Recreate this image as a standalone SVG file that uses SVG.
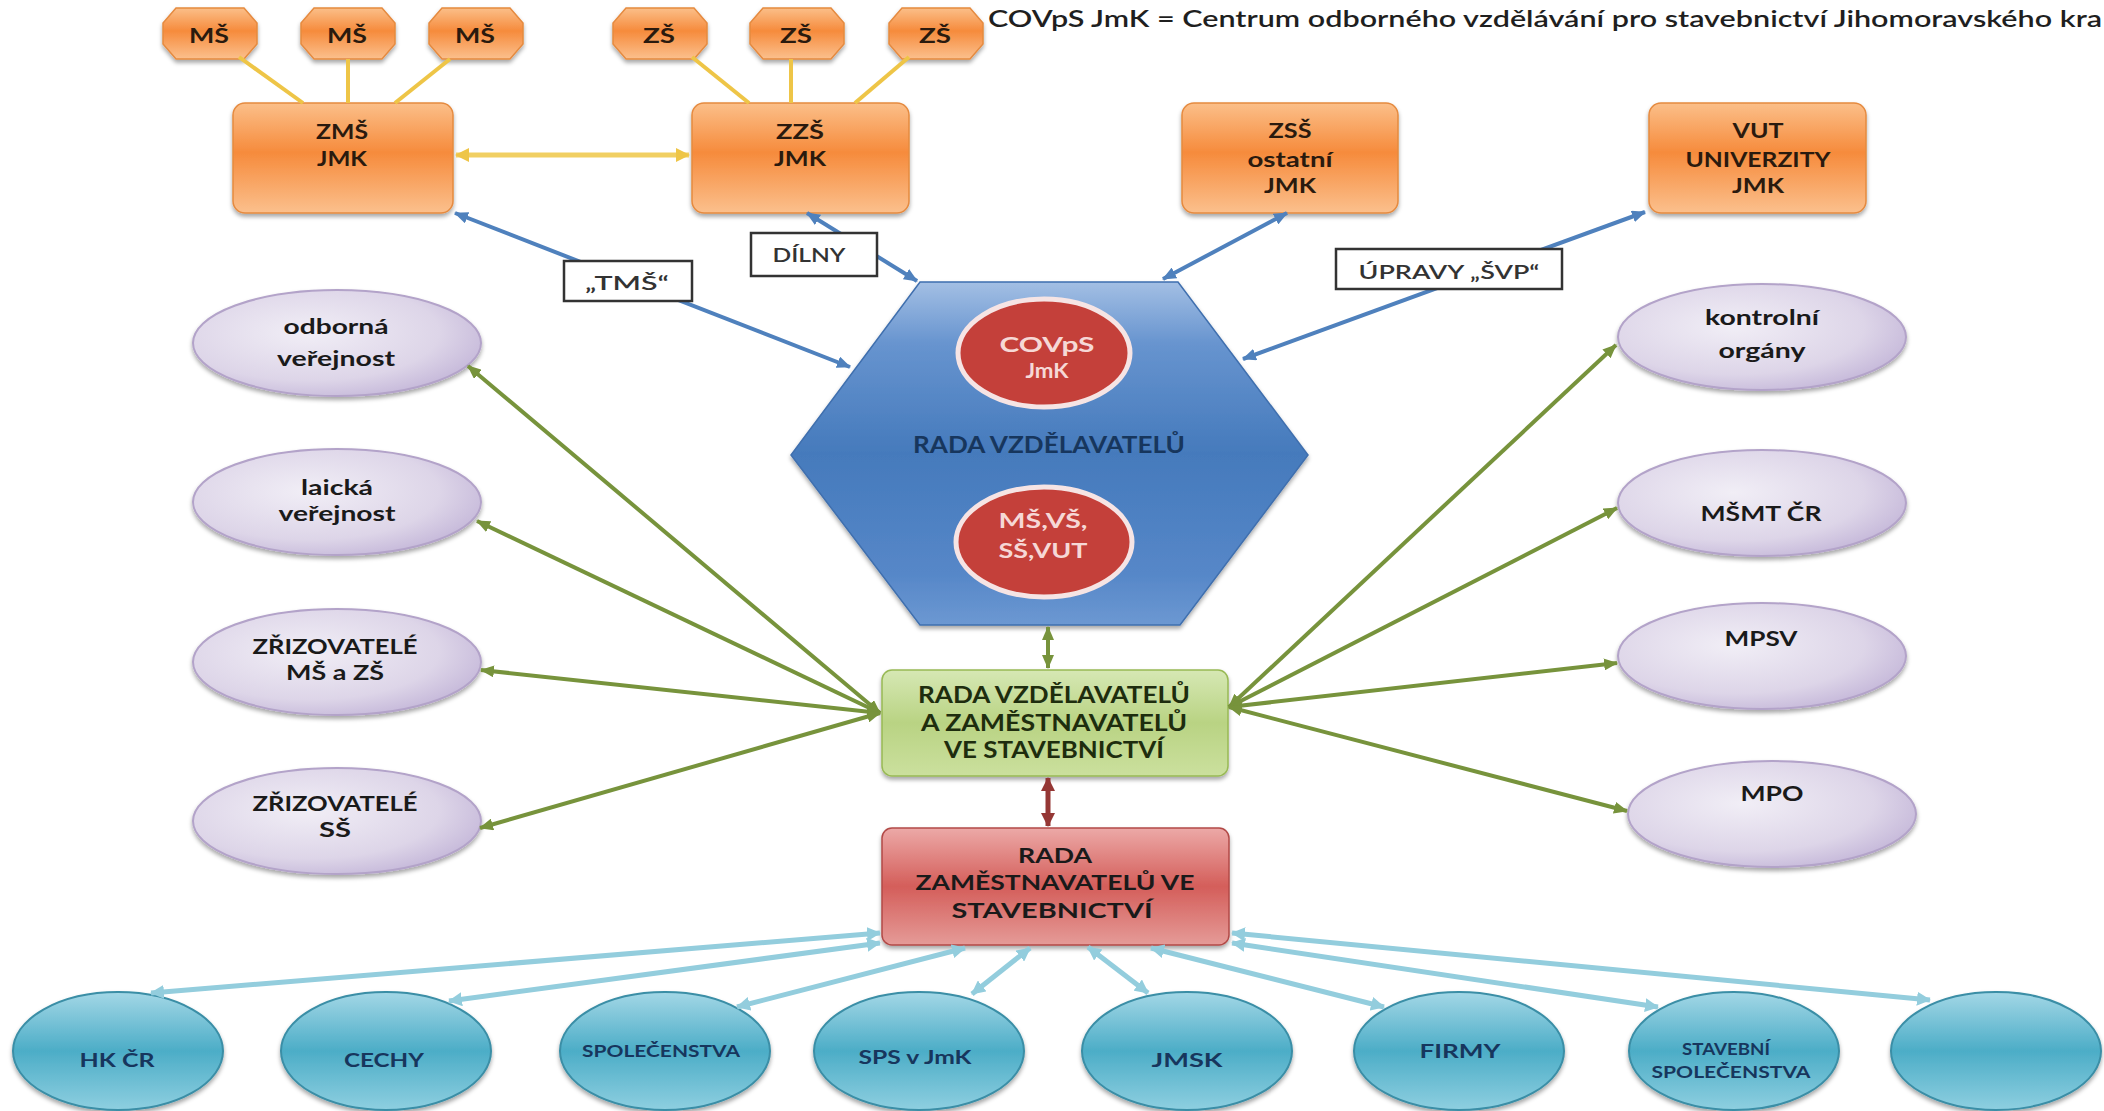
<svg xmlns="http://www.w3.org/2000/svg" xmlns:xlink="http://www.w3.org/1999/xlink" width="2104" height="1111" viewBox="0 0 2104 1111">
<style>
.t{font-family:Lato,'Liberation Sans',sans-serif;font-weight:700;text-anchor:middle;fill:#2a1a0e}
.o{font-size:21px}
.ell{font-size:21px;fill:#1a1a1a}
.tl{font-size:19px;fill:#17365d}
.lbl{font-family:Lato,'Liberation Sans',sans-serif;font-weight:600;font-size:20px;text-anchor:middle;fill:#333}
.box{stroke:#333;stroke-width:2.5;fill:#fff}
.orange{fill:url(#gOrange);stroke:#e58a3f;stroke-width:1.5;filter:url(#sh)}
.lav{fill:url(#gLav);stroke:#b3a3c9;stroke-width:2;filter:url(#sh)}
.teal{fill:url(#gTeal);stroke:#3a8ea6;stroke-width:2;filter:url(#sh)}
.cy{stroke:#eec547;stroke-width:4;fill:none}
.cyd{stroke:#f1cf62;stroke-width:5;fill:none}
.cb{stroke:#4f81bd;stroke-width:4;fill:none}
.cg{stroke:#77933c;stroke-width:4;fill:none}
.cr{stroke:#953735;stroke-width:5;fill:none}
.ct{stroke:#93cddd;stroke-width:5;fill:none}
</style>
<defs>
<filter id="sh" x="-10%" y="-10%" width="120%" height="135%"><feDropShadow dx="0" dy="3" stdDeviation="2" flood-color="#000" flood-opacity="0.35"/></filter>
<linearGradient id="gOrange" x1="0" y1="0" x2="0" y2="1"><stop offset="0" stop-color="#fbbf89"/><stop offset="0.45" stop-color="#f68b3c"/><stop offset="1" stop-color="#fbc08d"/></linearGradient>
<linearGradient id="gBlue" x1="0" y1="0" x2="0" y2="1"><stop offset="0" stop-color="#a3bfe4"/><stop offset="0.18" stop-color="#6794cf"/><stop offset="0.5" stop-color="#457abc"/><stop offset="0.85" stop-color="#5687c8"/><stop offset="1" stop-color="#6c98d2"/></linearGradient>
<linearGradient id="gGreen" x1="0" y1="0" x2="0" y2="1"><stop offset="0" stop-color="#d6e8b4"/><stop offset="0.5" stop-color="#b9d383"/><stop offset="1" stop-color="#cbe09e"/></linearGradient>
<linearGradient id="gRed" x1="0" y1="0" x2="0" y2="1"><stop offset="0" stop-color="#eca9a7"/><stop offset="0.5" stop-color="#d45e5a"/><stop offset="1" stop-color="#e59b98"/></linearGradient>
<radialGradient id="gLav" cx="0.4" cy="0.4" r="0.65"><stop offset="0" stop-color="#f1eef6"/><stop offset="0.7" stop-color="#ddd5e8"/><stop offset="1" stop-color="#c6b9da"/></radialGradient>
<linearGradient id="gTeal" x1="0" y1="0" x2="0" y2="1"><stop offset="0" stop-color="#a3d7e6"/><stop offset="0.5" stop-color="#4cadc7"/><stop offset="1" stop-color="#8ecfe0"/></linearGradient>
<path id="oct" d="M-34,8 L34,8 L47,23 L47,44 L34,59 L-34,59 L-47,44 L-47,23 Z"/>
<marker id="aY" markerUnits="userSpaceOnUse" viewBox="0 0 14 14" markerWidth="14" markerHeight="14" refX="13" refY="7" orient="auto-start-reverse"><path d="M0,0 L14,7 L0,14 Z" fill="#eec547"/></marker>
<marker id="aB" markerUnits="userSpaceOnUse" viewBox="0 0 14 12" markerWidth="14" markerHeight="12" refX="13" refY="6" orient="auto-start-reverse"><path d="M0,0 L14,6 L0,12 Z" fill="#4f81bd"/></marker>
<marker id="aG" markerUnits="userSpaceOnUse" viewBox="0 0 14 12" markerWidth="14" markerHeight="12" refX="13" refY="6" orient="auto-start-reverse"><path d="M0,0 L14,6 L0,12 Z" fill="#77933c"/></marker>
<marker id="aR" markerUnits="userSpaceOnUse" viewBox="0 0 14 14" markerWidth="14" markerHeight="14" refX="13" refY="7" orient="auto-start-reverse"><path d="M0,0 L14,7 L0,14 Z" fill="#953735"/></marker>
<marker id="aT" markerUnits="userSpaceOnUse" viewBox="0 0 14 14" markerWidth="14" markerHeight="14" refX="13" refY="7" orient="auto-start-reverse"><path d="M0,0 L14,7 L0,14 Z" fill="#93cddd"/></marker>
</defs>
<rect width="2104" height="1111" fill="#fff"/>

<!-- legend -->
<text id="legend" x="988" y="27" font-family="Lato,'Liberation Sans',sans-serif" font-weight="600" font-size="23" fill="#1f1f1f" textLength="1114" lengthAdjust="spacingAndGlyphs">COVpS JmK = Centrum odborného vzdělávání pro stavebnictví Jihomoravského kra</text>

<!-- top octagons -->
<g id="ms1"><use href="#oct" x="210" class="orange"/><text class="t o" x="209" y="43" textLength="40" lengthAdjust="spacingAndGlyphs">MŠ</text></g>
<g id="ms2"><use href="#oct" x="348" class="orange"/><text class="t o" x="347" y="43" textLength="40" lengthAdjust="spacingAndGlyphs">MŠ</text></g>
<g id="ms3"><use href="#oct" x="476" class="orange"/><text class="t o" x="475" y="43" textLength="40" lengthAdjust="spacingAndGlyphs">MŠ</text></g>
<g id="zs1"><use href="#oct" x="660" class="orange"/><text class="t o" x="659" y="43" textLength="32" lengthAdjust="spacingAndGlyphs">ZŠ</text></g>
<g id="zs2"><use href="#oct" x="797" class="orange"/><text class="t o" x="796" y="43" textLength="32" lengthAdjust="spacingAndGlyphs">ZŠ</text></g>
<g id="zs3"><use href="#oct" x="936" class="orange"/><text class="t o" x="935" y="43" textLength="32" lengthAdjust="spacingAndGlyphs">ZŠ</text></g>

<!-- orange boxes -->
<g id="zms"><rect x="233" y="103" width="220" height="110" rx="12" class="orange"/><text class="t o" x="342" y="139" textLength="52" lengthAdjust="spacingAndGlyphs">ZMŠ</text><text class="t o" x="342" y="166" textLength="50" lengthAdjust="spacingAndGlyphs">JMK</text></g>
<g id="zzs"><rect x="692" y="103" width="217" height="110" rx="12" class="orange"/><text class="t o" x="800" y="139" textLength="48" lengthAdjust="spacingAndGlyphs">ZZŠ</text><text class="t o" x="800" y="166" textLength="52" lengthAdjust="spacingAndGlyphs">JMK</text></g>
<g id="zss"><rect x="1182" y="103" width="216" height="110" rx="12" class="orange"/><text class="t o" x="1290" y="138" textLength="43" lengthAdjust="spacingAndGlyphs">ZSŠ</text><text class="t o" x="1290" y="167" textLength="85" lengthAdjust="spacingAndGlyphs">ostatní</text><text class="t o" x="1290" y="193" textLength="52" lengthAdjust="spacingAndGlyphs">JMK</text></g>
<g id="vut"><rect x="1649" y="103" width="217" height="110" rx="12" class="orange"/><text class="t o" x="1758" y="138" textLength="51" lengthAdjust="spacingAndGlyphs">VUT</text><text class="t o" x="1758" y="167" textLength="145" lengthAdjust="spacingAndGlyphs">UNIVERZITY</text><text class="t o" x="1758" y="193" textLength="52" lengthAdjust="spacingAndGlyphs">JMK</text></g>

<!-- hexagon -->
<g id="rada-vzdelavatelu">
<path d="M920,282 L1178,282 L1308,455 L1180,625 L920,625 L791,455 Z" fill="url(#gBlue)" stroke="#3f6fae" stroke-width="1.5" filter="url(#sh)"/>
<text class="t" x="1049" y="453" font-size="22" style="fill:#17365d" textLength="272" lengthAdjust="spacingAndGlyphs">RADA VZDĚLAVATELŮ</text>
</g>
<g id="covps">
<ellipse cx="1044" cy="353" rx="86" ry="54" fill="#c4403a" stroke="#f6e4e4" stroke-width="5"/>
<text class="t" x="1047" y="352" font-size="21" style="fill:#f6d8d6" textLength="95" lengthAdjust="spacingAndGlyphs">COVpS</text>
<text class="t" x="1047" y="378" font-size="21" style="fill:#f6d8d6" textLength="43" lengthAdjust="spacingAndGlyphs">JmK</text>
</g>
<g id="skoly">
<ellipse cx="1044" cy="542" rx="88" ry="55" fill="#c4403a" stroke="#f6e4e4" stroke-width="5"/>
<text class="t" x="1043" y="528" font-size="21" style="fill:#f6d8d6" textLength="89" lengthAdjust="spacingAndGlyphs">MŠ,VŠ,</text>
<text class="t" x="1043" y="558" font-size="21" style="fill:#f6d8d6" textLength="89" lengthAdjust="spacingAndGlyphs">SŠ,VUT</text>
</g>

<!-- green box -->
<g id="rada-vz">
<rect x="882" y="670" width="346" height="106" rx="10" fill="url(#gGreen)" stroke="#98b954" stroke-width="1.5" filter="url(#sh)"/>
<text class="t" x="1054" y="703" font-size="22" style="fill:#1e2d0e" textLength="272" lengthAdjust="spacingAndGlyphs">RADA VZDĚLAVATELŮ</text>
<text class="t" x="1054" y="731" font-size="22" style="fill:#1e2d0e" textLength="266" lengthAdjust="spacingAndGlyphs">A ZAMĚSTNAVATELŮ</text>
<text class="t" x="1054" y="758" font-size="22" style="fill:#1e2d0e" textLength="220" lengthAdjust="spacingAndGlyphs">VE STAVEBNICTVÍ</text>
</g>

<!-- red box -->
<g id="rada-zam">
<rect x="882" y="828" width="347" height="117" rx="10" fill="url(#gRed)" stroke="#b24a47" stroke-width="1.5" filter="url(#sh)"/>
<text class="t" x="1055" y="863" font-size="21" style="fill:#1a1a1a" textLength="74" lengthAdjust="spacingAndGlyphs">RADA</text>
<text class="t" x="1055" y="890" font-size="21" style="fill:#1a1a1a" textLength="279" lengthAdjust="spacingAndGlyphs">ZAMĚSTNAVATELŮ VE</text>
<text class="t" x="1052" y="918" font-size="21" style="fill:#1a1a1a" textLength="201" lengthAdjust="spacingAndGlyphs">STAVEBNICTVÍ</text>
</g>

<!-- left ellipses -->
<g id="odborna"><ellipse cx="337" cy="343" rx="144" ry="53" class="lav"/><text class="t ell" x="336" y="334" textLength="105" lengthAdjust="spacingAndGlyphs">odborná</text><text class="t ell" x="336" y="366" textLength="118" lengthAdjust="spacingAndGlyphs">veřejnost</text></g>
<g id="laicka"><ellipse cx="337" cy="502" rx="144" ry="53" class="lav"/><text class="t ell" x="337" y="495" textLength="72" lengthAdjust="spacingAndGlyphs">laická</text><text class="t ell" x="337" y="521" textLength="117" lengthAdjust="spacingAndGlyphs">veřejnost</text></g>
<g id="zriz-ms-zs"><ellipse cx="337" cy="662" rx="144" ry="53" class="lav"/><text class="t ell" x="335" y="654" textLength="165" lengthAdjust="spacingAndGlyphs">ZŘIZOVATELÉ</text><text class="t ell" x="335" y="680" textLength="98" lengthAdjust="spacingAndGlyphs">MŠ a ZŠ</text></g>
<g id="zriz-ss"><ellipse cx="337" cy="821" rx="144" ry="53" class="lav"/><text class="t ell" x="335" y="811" textLength="165" lengthAdjust="spacingAndGlyphs">ZŘIZOVATELÉ</text><text class="t ell" x="335" y="837" textLength="32" lengthAdjust="spacingAndGlyphs">SŠ</text></g>

<!-- right ellipses -->
<g id="kontrolni"><ellipse cx="1762" cy="337" rx="144" ry="53" class="lav"/><text class="t ell" x="1762" y="325" textLength="114" lengthAdjust="spacingAndGlyphs">kontrolní</text><text class="t ell" x="1762" y="358" textLength="87" lengthAdjust="spacingAndGlyphs">orgány</text></g>
<g id="msmt"><ellipse cx="1762" cy="503" rx="144" ry="53" class="lav"/><text class="t ell" x="1761" y="521" textLength="121" lengthAdjust="spacingAndGlyphs">MŠMT ČR</text></g>
<g id="mpsv"><ellipse cx="1762" cy="656" rx="144" ry="53" class="lav"/><text class="t ell" x="1761" y="646" textLength="73" lengthAdjust="spacingAndGlyphs">MPSV</text></g>
<g id="mpo"><ellipse cx="1772" cy="814" rx="144" ry="53" class="lav"/><text class="t ell" x="1772" y="801" textLength="63" lengthAdjust="spacingAndGlyphs">MPO</text></g>

<!-- bottom teal ellipses -->
<g id="hkcr"><ellipse cx="118" cy="1051" rx="105" ry="59" class="teal"/><text class="t tl" x="117" y="1067" textLength="75" lengthAdjust="spacingAndGlyphs">HK ČR</text></g>
<g id="cechy"><ellipse cx="386" cy="1051" rx="105" ry="59" class="teal"/><text class="t tl" x="384" y="1067" textLength="80" lengthAdjust="spacingAndGlyphs">CECHY</text></g>
<g id="spolecenstva"><ellipse cx="665" cy="1051" rx="105" ry="59" class="teal"/><text class="t tl" x="661" y="1057" style="font-size:17px" textLength="158" lengthAdjust="spacingAndGlyphs">SPOLEČENSTVA</text></g>
<g id="sps"><ellipse cx="919" cy="1051" rx="105" ry="59" class="teal"/><text class="t tl" x="915" y="1064" textLength="113" lengthAdjust="spacingAndGlyphs">SPS v JmK</text></g>
<g id="jmsk"><ellipse cx="1187" cy="1051" rx="105" ry="59" class="teal"/><text class="t tl" x="1187" y="1067" textLength="71" lengthAdjust="spacingAndGlyphs">JMSK</text></g>
<g id="firmy"><ellipse cx="1459" cy="1051" rx="105" ry="59" class="teal"/><text class="t tl" x="1460" y="1058" textLength="81" lengthAdjust="spacingAndGlyphs">FIRMY</text></g>
<g id="stavebni"><ellipse cx="1734" cy="1051" rx="105" ry="59" class="teal"/><text class="t tl" x="1726" y="1055" style="font-size:17px" textLength="88" lengthAdjust="spacingAndGlyphs">STAVEBNÍ</text><text class="t tl" x="1731" y="1078" style="font-size:17px" textLength="159" lengthAdjust="spacingAndGlyphs">SPOLEČENSTVA</text></g>
<g id="empty"><ellipse cx="1996" cy="1051" rx="105" ry="59" class="teal"/></g>

<!-- connectors -->
<g id="connectors">
<line class="cy" x1="239" y1="57" x2="303" y2="103"/>
<line class="cy" x1="348" y1="59" x2="348" y2="103"/>
<line class="cy" x1="450" y1="59" x2="395" y2="103"/>
<line class="cy" x1="692" y1="57" x2="749" y2="103"/>
<line class="cy" x1="791" y1="59" x2="791" y2="103"/>
<line class="cy" x1="909" y1="57" x2="855" y2="103"/>
<line class="cyd" x1="456" y1="155" x2="689" y2="155" marker-start="url(#aY)" marker-end="url(#aY)"/>

<line class="cb" x1="455" y1="213" x2="850" y2="367" marker-start="url(#aB)" marker-end="url(#aB)"/>
<line class="cb" x1="807" y1="213" x2="917" y2="281" marker-start="url(#aB)" marker-end="url(#aB)"/>
<line class="cb" x1="1287" y1="213" x2="1163" y2="279" marker-start="url(#aB)" marker-end="url(#aB)"/>
<line class="cb" x1="1645" y1="212" x2="1243" y2="359" marker-start="url(#aB)" marker-end="url(#aB)"/>

<line class="cg" x1="1048" y1="627" x2="1048" y2="668" marker-start="url(#aG)" marker-end="url(#aG)"/>
<line class="cr" x1="1048" y1="778" x2="1048" y2="826" marker-start="url(#aR)" marker-end="url(#aR)"/>

<line class="cg" x1="880" y1="713" x2="468" y2="366" marker-start="url(#aG)" marker-end="url(#aG)"/>
<line class="cg" x1="880" y1="713" x2="477" y2="521" marker-start="url(#aG)" marker-end="url(#aG)"/>
<line class="cg" x1="880" y1="713" x2="481" y2="670" marker-start="url(#aG)" marker-end="url(#aG)"/>
<line class="cg" x1="880" y1="713" x2="480" y2="828" marker-start="url(#aG)" marker-end="url(#aG)"/>
<line class="cg" x1="1229" y1="707" x2="1616" y2="345" marker-start="url(#aG)" marker-end="url(#aG)"/>
<line class="cg" x1="1229" y1="707" x2="1617" y2="508" marker-start="url(#aG)" marker-end="url(#aG)"/>
<line class="cg" x1="1229" y1="707" x2="1617" y2="663" marker-start="url(#aG)" marker-end="url(#aG)"/>
<line class="cg" x1="1229" y1="707" x2="1627" y2="811" marker-start="url(#aG)" marker-end="url(#aG)"/>

<line class="ct" x1="880" y1="933" x2="151" y2="993" marker-start="url(#aT)" marker-end="url(#aT)"/>
<line class="ct" x1="880" y1="943" x2="449" y2="1001" marker-start="url(#aT)" marker-end="url(#aT)"/>
<line class="ct" x1="965" y1="948" x2="737" y2="1007" marker-start="url(#aT)" marker-end="url(#aT)"/>
<line class="ct" x1="1030" y1="948" x2="972" y2="994" marker-start="url(#aT)" marker-end="url(#aT)"/>
<line class="ct" x1="1088" y1="947" x2="1148" y2="993" marker-start="url(#aT)" marker-end="url(#aT)"/>
<line class="ct" x1="1151" y1="948" x2="1384" y2="1007" marker-start="url(#aT)" marker-end="url(#aT)"/>
<line class="ct" x1="1232" y1="943" x2="1658" y2="1007" marker-start="url(#aT)" marker-end="url(#aT)"/>
<line class="ct" x1="1232" y1="933" x2="1930" y2="1000" marker-start="url(#aT)" marker-end="url(#aT)"/>
</g>

<!-- label boxes -->
<g id="lbl-tms"><rect x="564" y="261" width="128" height="40" class="box"/><text class="lbl" x="627" y="290" textLength="84" lengthAdjust="spacingAndGlyphs">„TMŠ“</text></g>
<g id="lbl-dilny"><rect x="751" y="233" width="126" height="43" class="box"/><text class="lbl" x="809" y="262" textLength="73" lengthAdjust="spacingAndGlyphs">DÍLNY</text></g>
<g id="lbl-svp"><rect x="1336" y="249" width="226" height="40" class="box"/><text class="lbl" x="1449" y="279" textLength="181" lengthAdjust="spacingAndGlyphs">ÚPRAVY „ŠVP“</text></g>
</svg>
